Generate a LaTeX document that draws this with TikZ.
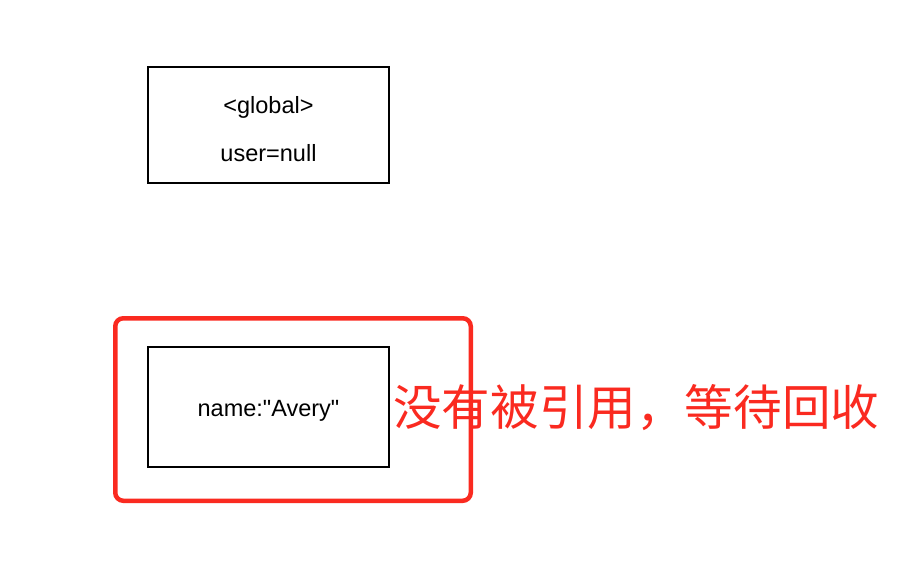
\documentclass[tikz,border=0pt]{standalone}
\usepackage{fontspec}
\newfontfamily\boxfont{Liberation Sans}
\newfontfamily\cjk{Noto Sans CJK SC}
\usepackage{xcolor}
\usetikzlibrary{positioning,fit}
\definecolor{gcred}{RGB}{250,42,32}

\begin{document}
\begin{tikzpicture}[
  x=1pt, y=-1pt,
  every node/.style={font=\boxfont\fontsize{23.5}{48}\selectfont},
  scopebox/.style={
    rectangle,
    draw=black,
    line width=1.5pt,
    minimum width=241pt,
    minimum height=116pt,
    inner sep=0pt,
    align=center
  },
  gcframe/.style={
    rectangle,
    draw=gcred,
    line width=4.5pt,
    rounded corners=8pt,
    inner sep=0pt
  },
  note/.style={
    text=gcred,
    font=\cjk\fontsize{48.6}{48}\selectfont,
    inner sep=0pt,
    anchor=west
  }
]
\useasboundingbox (0,0) rectangle (910,560);

% Global scope
\node[scopebox] (global) at (268.5,125) {\rule{0pt}{25pt}<global>\\user=null};

% Orphaned object
\node[scopebox, minimum height=120pt] (obj) at (268.5,407) {\rule{0pt}{23pt}name:"Avery"};

% Garbage marker
\coordinate (frametl) at (115.25,318.25);
\coordinate (framebr) at (470.75,500.75);
\node[gcframe, fit=(frametl)(framebr)] (frame) {};
\node[note] (gcnote) at (393,408) {没有被引用，等待回收};

\end{tikzpicture}
\end{document}
